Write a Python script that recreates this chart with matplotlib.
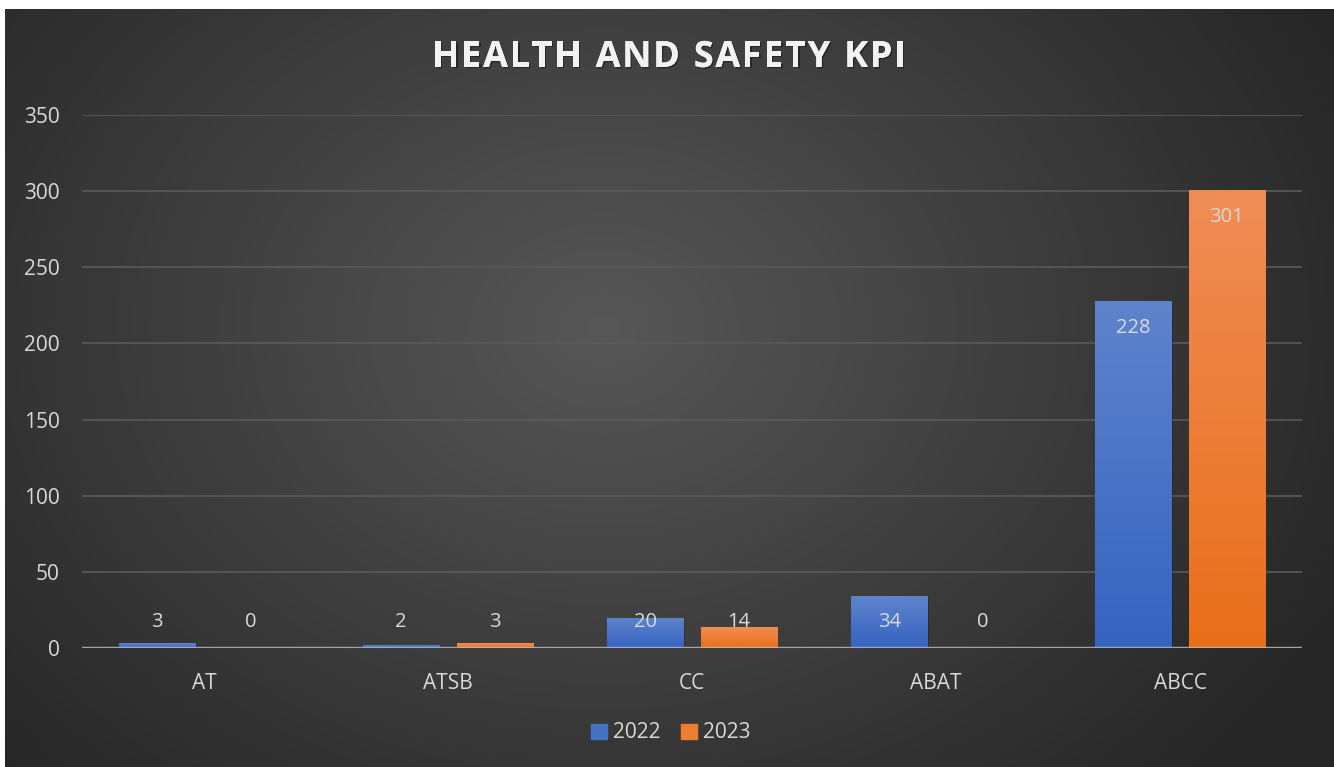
import numpy as np
import matplotlib
matplotlib.use("Agg")
import matplotlib.pyplot as plt
from matplotlib.colors import LinearSegmentedColormap
from matplotlib.patches import Rectangle
import matplotlib.patheffects as pe

categories = ["AT", "ATSB", "CC", "ABAT", "ABCC"]
series_names = ["2022", "2023"]
values_2022 = [3, 2, 20, 34, 228]
values_2023 = [0, 3, 14, 0, 301]
yticks = [0, 50, 100, 150, 200, 250, 300, 350]
title = "HEALTH AND SAFETY KPI"

W, H = 1334, 767
fig = plt.figure(figsize=(W / 100, H / 100), dpi=100, facecolor="white")

# background with radial gradient
bg = fig.add_axes([5 / W, 0, 1 - 5 / W, (H - 9) / H])
bg.set_axis_off()
ny, nx = 300, 520
yy, xx = np.mgrid[0:ny, 0:nx]
cx, cy = nx * 0.45, ny * 0.42
r = np.sqrt(((xx - cx) / (nx * 0.62)) ** 2 + ((yy - cy) / (ny * 0.85)) ** 2)
r = np.clip(r, 0, 1)
inner = np.array([0x57, 0x57, 0x57]) / 255
outer = np.array([0x26, 0x26, 0x26]) / 255
img = inner[None, None, :] * (1 - r[..., None]) + outer[None, None, :] * r[..., None]
bg.imshow(img, extent=[0, 1, 0, 1], aspect="auto", origin="upper", interpolation="bilinear")
bg.set_xlim(0, 1)
bg.set_ylim(0, 1)

ax = fig.add_axes([82 / W, (H - 648) / H, (1302 - 82) / W, (648 - 115) / H])
ax.patch.set_alpha(0)
for s in ax.spines.values():
    s.set_visible(False)

x = np.arange(len(categories))
width = 0.312
off = 0.192
blue_cmap = LinearSegmentedColormap.from_list("b", ["#3563c0", "#5f84cd"])
orange_cmap = LinearSegmentedColormap.from_list("o", ["#e96f1a", "#f08d57"])

grad = np.linspace(0, 1, 256).reshape(-1, 1)
bars_all = []
for vals, dx, cmap in [(values_2022, -off, blue_cmap), (values_2023, off, orange_cmap)]:
    bars = ax.bar(x + dx, vals, width=width, color="none", edgecolor="none", zorder=3)
    for b in bars:
        h = b.get_height()
        if h <= 0:
            continue
        sh = Rectangle((b.get_x() + 0.006, 0), b.get_width(), h, facecolor="black",
                       alpha=0.18, edgecolor="none", zorder=2.5)
        ax.add_patch(sh)
        im = ax.imshow(grad, cmap=cmap, origin="lower", aspect="auto",
                       extent=[b.get_x(), b.get_x() + b.get_width(), 0, h], zorder=3)
        im.set_clip_path(b)
    bars_all.append((bars, vals))

for bars, vals in bars_all:
    for b, v in zip(bars, vals):
        ypos = max(v - 18, 17)
        ax.text(b.get_x() + b.get_width() / 2, ypos, str(v), ha="center", va="center",
                color="#d9d9d9", fontsize=14.5, family="Open Sans", zorder=5)

ax.set_xlim(-0.5, len(categories) - 0.5)
ax.set_ylim(0, 350)
ax.set_yticks(yticks)
ax.set_yticklabels([str(t) for t in yticks], family="Open Sans", fontsize=15, color="#d9d9d9")
ax.set_xticks(x)
ax.set_xticklabels(categories, family="Open Sans", fontsize=15, color="#d9d9d9")
ax.tick_params(axis="both", length=0)
ax.tick_params(axis="y", pad=16)
ax.tick_params(axis="x", pad=18)
ax.yaxis.grid(True, color="#5a5a5a", linewidth=1.2, zorder=1)
ax.set_axisbelow(True)
ax.axhline(0, color="#bfbfbf", alpha=0.75, linewidth=2.5, zorder=4)

# title with letter spacing
fig.canvas.draw()
renderer = fig.canvas.get_renderer()
tracking = 1.6
props = dict(fontsize=26, fontweight="bold", family="Open Sans", color="#f2f2f2")
widths = []
for ch in title:
    t = fig.text(0, 0, ch if ch != " " else "n", **props)
    w = t.get_window_extent(renderer).width
    if ch == " ":
        w *= 0.45
    widths.append(w)
    t.remove()
total = sum(widths) + tracking * (len(title) - 1)
xc = 669
xs = xc - total / 2
ytitle = (H - 58) / H
for ch, w in zip(title, widths):
    if ch != " ":
        fig.text(xs / W, ytitle, ch, ha="left", va="center", **props,
                 path_effects=[pe.withSimplePatchShadow(offset=(1, -1), shadow_rgbFace="black", alpha=0.4),
                               pe.Normal()])
    xs += w + tracking

# legend
handles = [Rectangle((0, 0), 1, 1, color="#4472c4"), Rectangle((0, 0), 1, 1, color="#ed7d31")]
leg = fig.legend(handles, series_names, loc="center", bbox_to_anchor=(671 / W, (H - 733) / H),
                 ncol=2, frameon=False, handlelength=0.75, handleheight=0.75, handletextpad=0.3,
                 columnspacing=1.0, prop={"family": "Open Sans", "size": 15})
for t in leg.get_texts():
    t.set_color("#d9d9d9")

fig.savefig("out.png", dpi=100, facecolor="white")
